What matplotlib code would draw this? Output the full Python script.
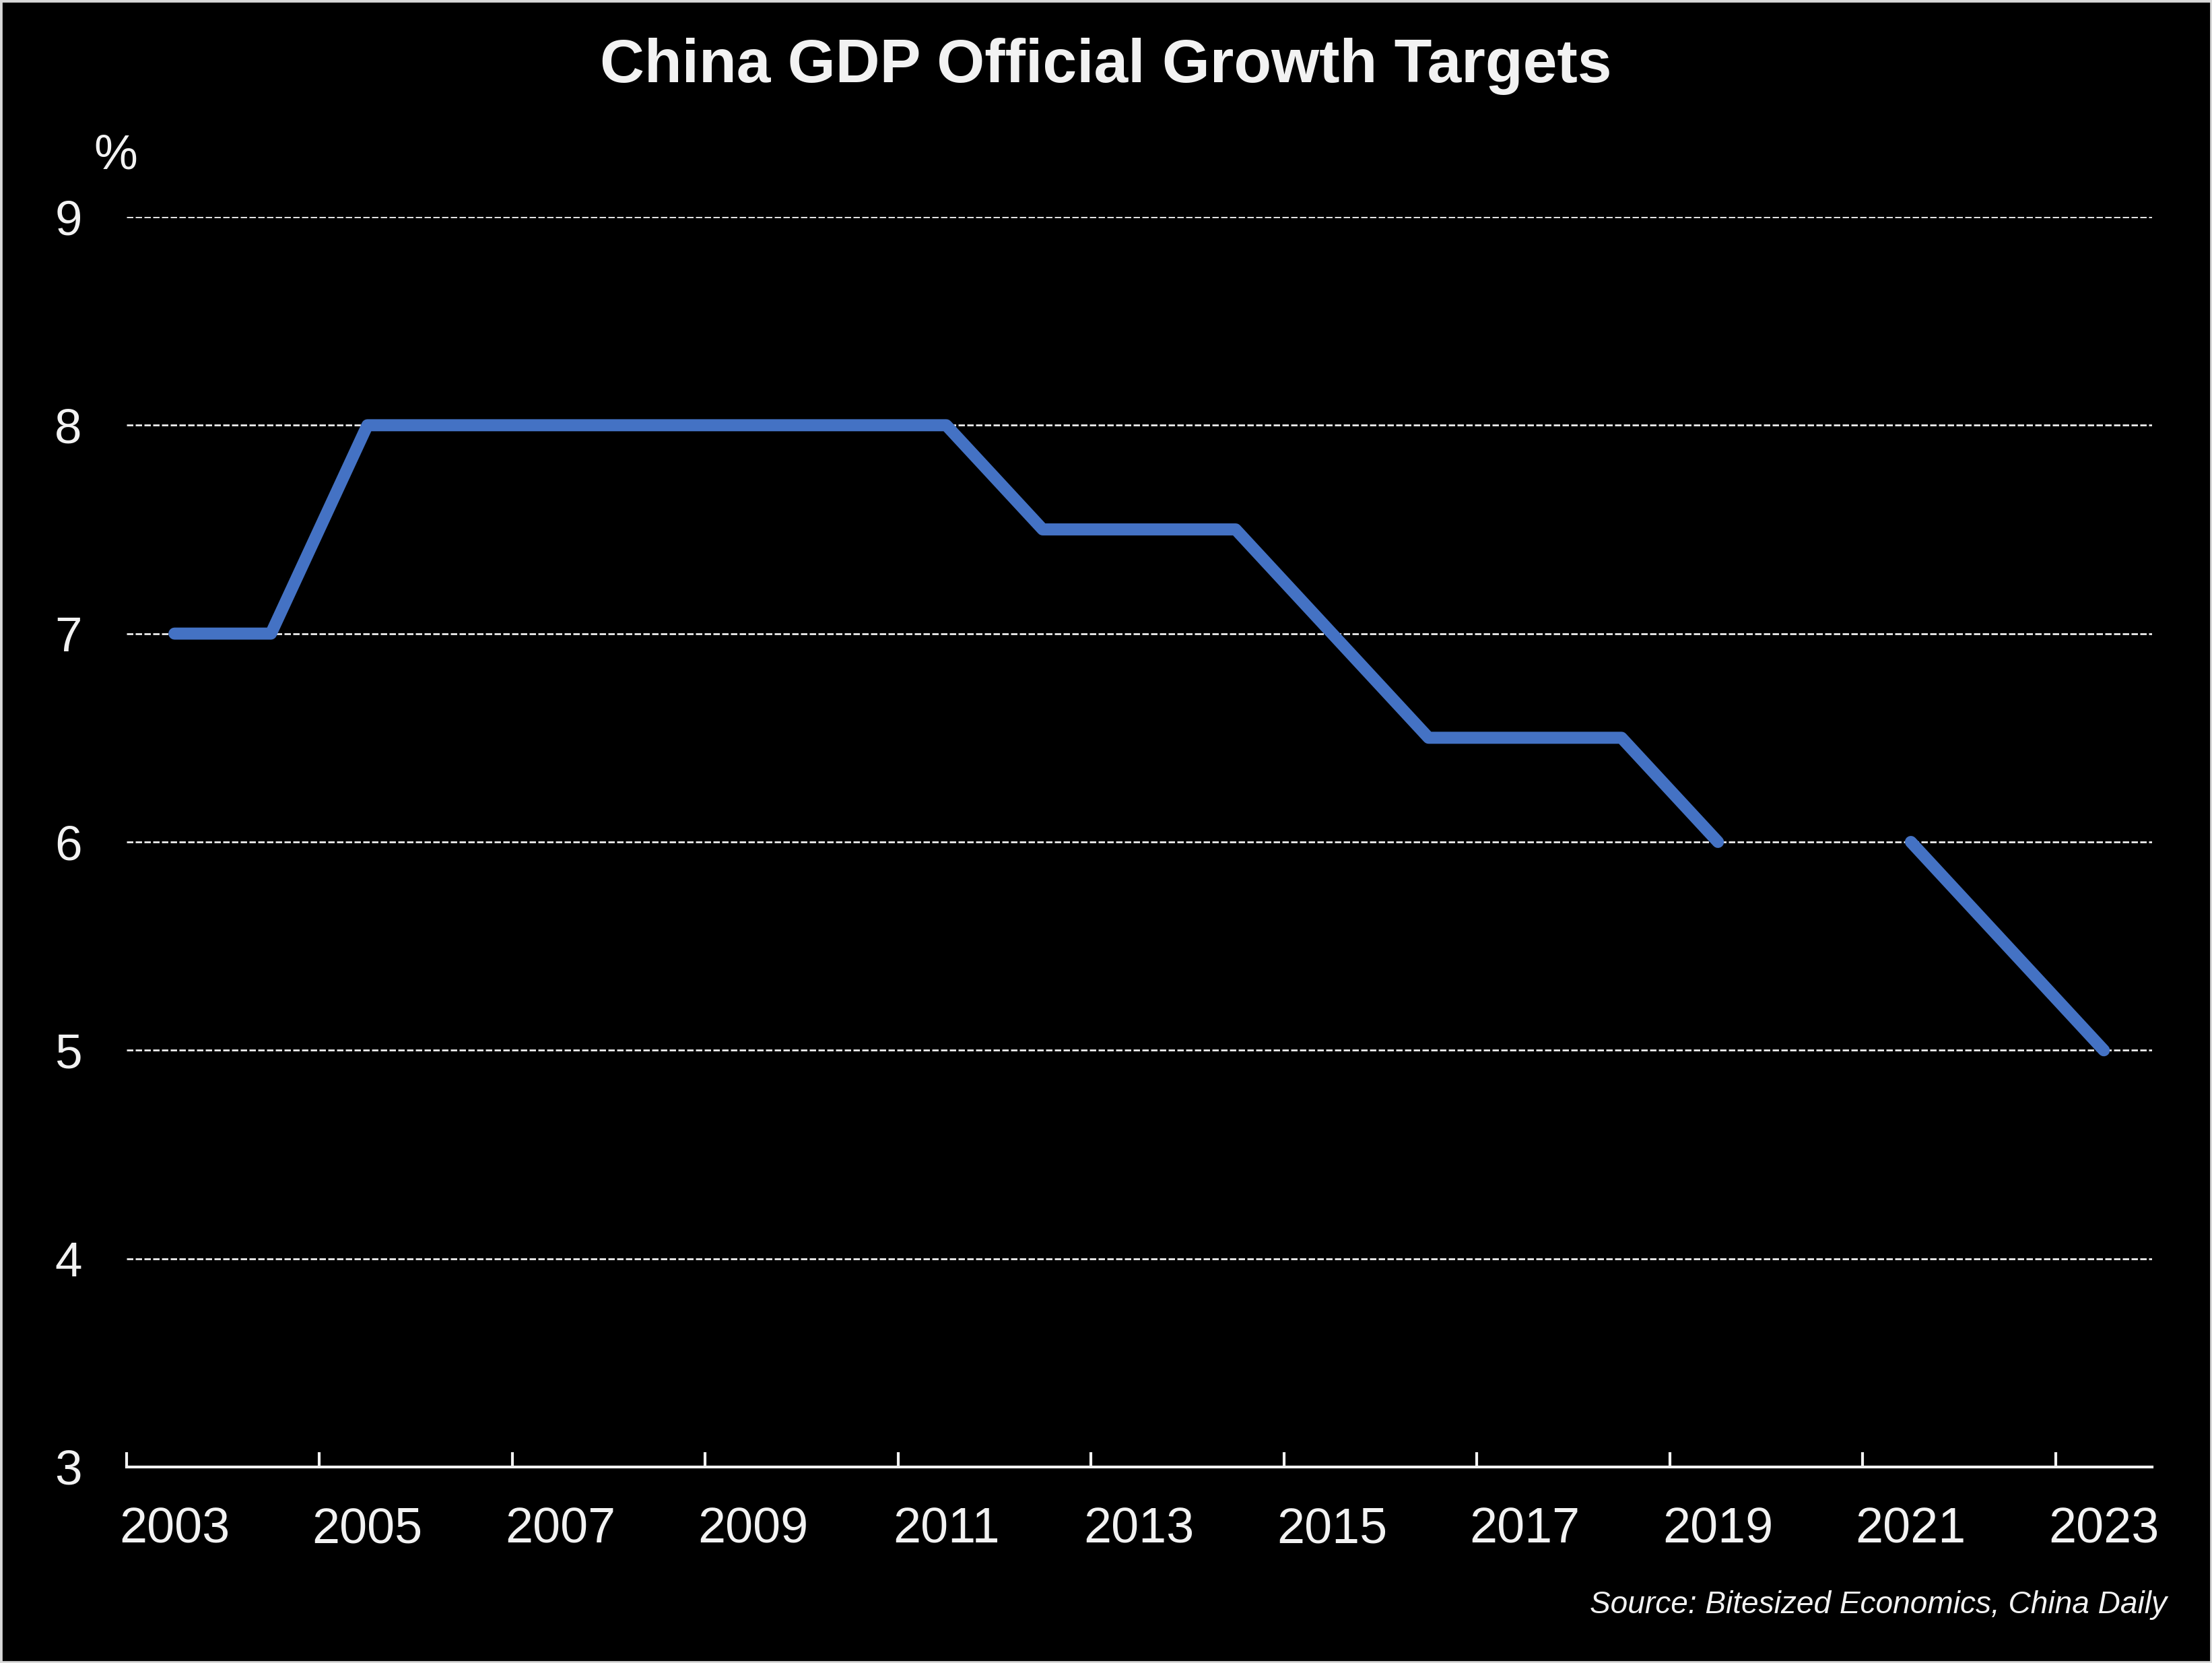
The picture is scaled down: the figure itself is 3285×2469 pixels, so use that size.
import matplotlib
matplotlib.use("Agg")
import matplotlib.pyplot as plt
from matplotlib.patches import Rectangle
import numpy as np

years = list(range(2003, 2024))
targets = [7, 7, 8, 8, 8, 8, 8, 8, 8, 7.5, 7.5, 7.5, 7, 6.5, 6.5, 6.5, 6, np.nan, 6, 5.5, 5]
yticks = [3, 4, 5, 6, 7, 8, 9]

plt.rcParams['font.family'] = ['Liberation Sans', 'DejaVu Sans']
TXT = '#f2f2f2'

W, H = 3285, 2469
fig = plt.figure(figsize=(W / 300, H / 300), dpi=300, facecolor='black')
ax = fig.add_axes([187.5 / W, 1 - 2178 / H, (3196 - 187.5) / W, (2178 - 322) / H])
ax.set_facecolor('black')

x = np.arange(len(years))
ax.plot(x, targets, color='#4472C4', lw=4.3, solid_capstyle='round', solid_joinstyle='round', zorder=3)

ax.set_xlim(-0.5, len(years) - 0.5)
ax.set_ylim(3, 9)
ax.set_yticks(yticks)
ax.set_yticklabels([str(v) for v in yticks])
ax.set_xticks(x[::2])
ax.set_xticklabels([str(y) for y in years[::2]])
ax.set_xticks(np.arange(-0.5, len(years) - 1, 2), minor=True)

ax.tick_params(axis='x', which='major', length=0, pad=14, labelsize=17.7, labelcolor=TXT)
ax.tick_params(axis='x', which='minor', length=5.3, width=1.0, direction='in', color=TXT)
ax.tick_params(axis='y', which='both', length=0, pad=15.8, labelsize=17.5, labelcolor=TXT)

for s in ['top', 'right', 'left']:
    ax.spines[s].set_visible(False)
ax.spines['bottom'].set_color(TXT)
ax.spines['bottom'].set_linewidth(1.0)
ax.spines['bottom'].set_zorder(4)

ax.set_axisbelow(True)
ax.yaxis.grid(True, color=TXT, lw=0.65, linestyle=(0, (3.5, 1.3)))
ax.xaxis.grid(False)

fig.text(0.5, 1 - 122 / H, 'China GDP Official Growth Targets', ha='center', va='baseline',
         fontsize=21.9, fontweight='bold', color=TXT)
fig.text(172 / W, 1 - 232 / H, '%', ha='center', va='center', fontsize=17.5, color=TXT)
fig.text(3218 / W, 1 - 2395 / H, 'Source: Bitesized Economics, China Daily', ha='right', va='baseline',
         fontsize=11.05, fontstyle='italic', color=TXT)

fig.patches.append(Rectangle((0, 0), 1, 1, transform=fig.transFigure, fill=False,
                             edgecolor='#d9d9d9', lw=1.6, zorder=10))

fig.savefig('out.png', dpi=300, facecolor='black')
